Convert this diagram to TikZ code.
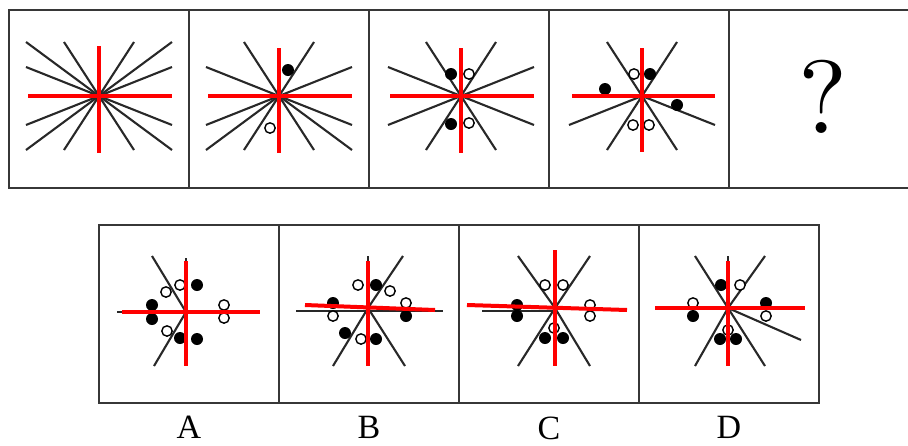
\documentclass[tikz,border=0pt]{standalone}
\usepackage{fontspec}
\setmainfont{Liberation Serif}
\newfontfamily\qmfont{lmroman10-regular.otf}
\usepackage{xcolor}
\usetikzlibrary{positioning}
\definecolor{framegray}{RGB}{55,55,55}
\definecolor{rayblack}{RGB}{40,40,40}
\definecolor{crossred}{RGB}{255,0,0}

\begin{document}
\begin{tikzpicture}[x=1pt, y=-1pt,
    panel/.style={draw=framegray, line width=2.6pt, minimum width=180pt, minimum height=178pt, inner sep=0pt, outer sep=0pt},
    ray/.style={draw=rayblack, line width=2.1pt},
    redbar/.style={draw=crossred, line width=4pt},
    blackdot/.style={fill=black},
    opendot/.style={draw=black, fill=white, line width=1.4pt},
    lab/.style={font=\fontsize{34}{34}\selectfont}]
\useasboundingbox (0,0) rectangle (908,445);

% question row
\node[panel] (t1) at (99,99) {};
\node[panel, right=0pt of t1] (t2) {};
\node[panel, right=0pt of t2] (t3) {};
\node[panel, right=0pt of t3] (t4) {};
\node[panel, right=0pt of t4] (t5) {};
\node[font=\qmfont\fontsize{104}{104}\selectfont] (qm) at ([xshift=4pt, yshift=2pt]t5.center) {?};

% answer row
\node[panel] (b1) at (189,314) {};
\node[panel, right=0pt of b1] (b2) {};
\node[panel, right=0pt of b2] (b3) {};
\node[panel, right=0pt of b3] (b4) {};
\node[lab, below=10pt of b1] (la) {A};
\node[lab, below=10pt of b2] (lb) {B};
\node[lab, below=10pt of b3] (lc) {C};
\node[lab, below=10pt of b4] (ld) {D};

% figure 1
\begin{scope}[shift={(99,96)}]
  \foreach \p in {(73,54),(73,-54),(-73,54),(-73,-54),(35,54),(35,-54),(-35,54),(-35,-54),(73,29),(73,-29),(-73,29),(-73,-29)}
    \draw[ray] (0,0) -- \p;
  \draw[redbar] (-71,0) -- (73,0);
  \draw[redbar] (0,-50) -- (0,57);
\end{scope}

% figure 2
\begin{scope}[shift={(279,96)}]
  \foreach \p in {(73,54),(-73,54),(35,54),(35,-54),(-35,54),(-35,-54),(73,29),(73,-29),(-73,29),(-73,-29)}
    \draw[ray] (0,0) -- \p;
  \fill[blackdot] (9,-26) circle (6pt);
  \draw[opendot] (-9,32) circle (5.2pt);
  \draw[redbar] (-71,0) -- (73,0);
  \draw[redbar] (0,-48) -- (0,57);
\end{scope}

% figure 3
\begin{scope}[shift={(461,96)}]
  \foreach \p in {(35,54),(35,-54),(-35,54),(-35,-54),(73,29),(73,-29),(-73,29),(-73,-29)}
    \draw[ray] (0,0) -- \p;
  \fill[blackdot] (-10,-22) circle (6pt);
  \fill[blackdot] (-10,28) circle (6pt);
  \draw[opendot] (8,-22) circle (5.2pt);
  \draw[opendot] (8,27) circle (5.2pt);
  \draw[redbar] (-71,0) -- (73,0);
  \draw[redbar] (0,-48) -- (0,57);
\end{scope}

% figure 4
\begin{scope}[shift={(642,96)}]
  \foreach \p in {(35,54),(35,-54),(-35,54),(-35,-54),(73,29),(-73,29)}
    \draw[ray] (0,0) -- \p;
  \draw[opendot] (-8,-22) circle (5.2pt);
  \fill[blackdot] (8,-22) circle (6pt);
  \draw[opendot] (-9,29) circle (5.2pt);
  \draw[opendot] (7,29) circle (5.2pt);
  \fill[blackdot] (-37,-7) circle (6pt);
  \fill[blackdot] (35,9) circle (6pt);
  \draw[redbar] (-70,0) -- (73,0);
  \draw[redbar] (0,-48) -- (0,56);
\end{scope}

% option A
\begin{scope}[shift={(186,312)}]
  \draw[ray] (0,0) -- (-34,-56);
  \draw[ray] (0,0) -- (-32,54);
  \draw[ray] (-69,0) -- (70,0);
  \draw[ray] (0,-54) -- (0,50);
  \draw[opendot] (-20,-20) circle (5.2pt);
  \draw[opendot] (-6,-27) circle (5.2pt);
  \fill[blackdot] (11,-27) circle (6pt);
  \fill[blackdot] (-34,-7) circle (6pt);
  \fill[blackdot] (-34,7) circle (6pt);
  \draw[opendot] (38,-7) circle (5.2pt);
  \draw[opendot] (38,6) circle (5.2pt);
  \draw[opendot] (-19,19) circle (5.2pt);
  \fill[blackdot] (-6,26) circle (6pt);
  \fill[blackdot] (11,27) circle (6pt);
  \draw[redbar] (-64,0) -- (74,0);
  \draw[redbar] (0,-51) -- (0,54);
\end{scope}

% option B
\begin{scope}[shift={(368,308)}]
  \draw[ray] (0,0) -- (35,-52);
  \draw[ray] (0,0) -- (-35,58);
  \draw[ray] (0,0) -- (37,58);
  \draw[ray] (-72,3) -- (75,3);
  \draw[ray] (0,-52) -- (0,0);
  \draw[opendot] (-10,-23) circle (5.2pt);
  \fill[blackdot] (8,-23) circle (6pt);
  \draw[opendot] (22,-17) circle (5.2pt);
  \fill[blackdot] (-35,-5) circle (6pt);
  \draw[opendot] (-35,8) circle (5.2pt);
  \draw[opendot] (38,-5) circle (5.2pt);
  \fill[blackdot] (38,8) circle (6pt);
  \fill[blackdot] (-23,25) circle (6pt);
  \draw[opendot] (-7,31) circle (5.2pt);
  \fill[blackdot] (8,31) circle (6pt);
  \draw[redbar] (-63,-3) -- (67,2);
  \draw[redbar] (0,-47) -- (0,58);
\end{scope}

% option C
\begin{scope}[shift={(555,308)}]
  \foreach \p in {(-37,-52),(35,-52),(-37,58),(35,58)}
    \draw[ray] (0,0) -- \p;
  \draw[ray] (-73,3) -- (0,3);
  \draw[opendot] (-10,-23) circle (5.2pt);
  \draw[opendot] (8,-23) circle (5.2pt);
  \fill[blackdot] (-38,-3) circle (6pt);
  \fill[blackdot] (-38,8) circle (6pt);
  \draw[opendot] (35,-3) circle (5.2pt);
  \draw[opendot] (35,8) circle (5.2pt);
  \draw[opendot] (-1,20) circle (5.2pt);
  \fill[blackdot] (-10,30) circle (6pt);
  \fill[blackdot] (8,30) circle (6pt);
  \draw[redbar] (-88,-3) -- (72,2);
  \draw[redbar] (0,-58) -- (0,58);
\end{scope}

% option D
\begin{scope}[shift={(728,308)}]
  \foreach \p in {(-33,-52),(37,-52),(-33,58),(37,58),(73,32)}
    \draw[ray] (0,0) -- \p;
  \draw[ray] (0,-52) -- (0,0);
  \fill[blackdot] (-7,-23) circle (6pt);
  \draw[opendot] (12,-23) circle (5.2pt);
  \draw[opendot] (-35,-5) circle (5.2pt);
  \fill[blackdot] (-35,8) circle (6pt);
  \fill[blackdot] (38,-5) circle (6pt);
  \draw[opendot] (38,8) circle (5.2pt);
  \draw[opendot] (0,22) circle (5.2pt);
  \fill[blackdot] (-8,31) circle (6pt);
  \fill[blackdot] (8,31) circle (6pt);
  \draw[redbar] (-73,0) -- (77,0);
  \draw[redbar] (0,-47) -- (0,58);
\end{scope}
\end{tikzpicture}
\end{document}
